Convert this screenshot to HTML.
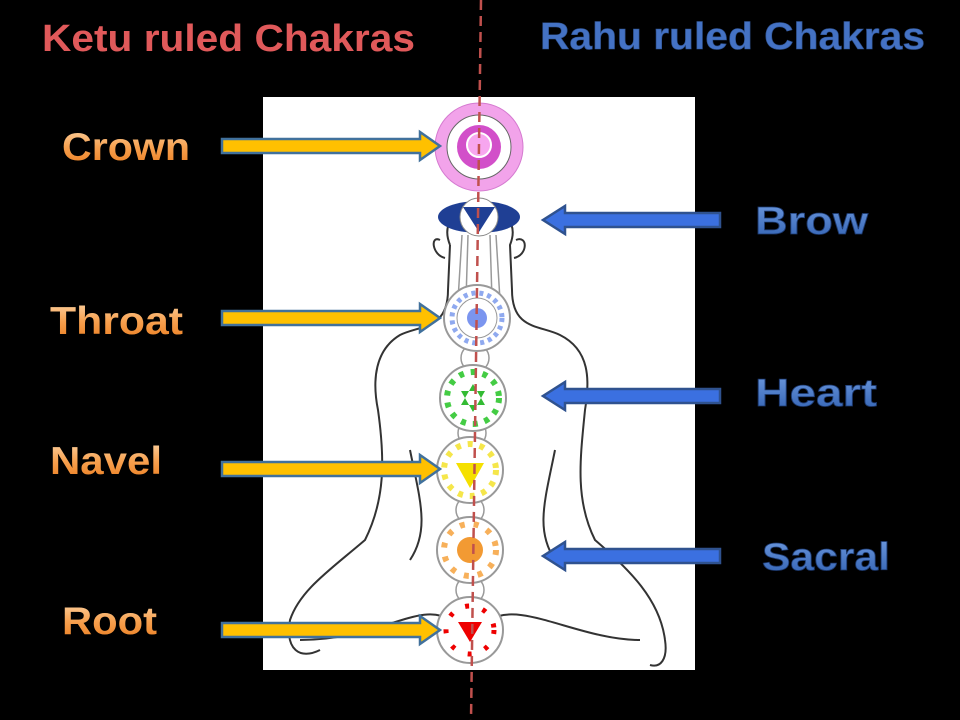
<!DOCTYPE html>
<html><head><style>
body{margin:0;background:#000;width:960px;height:720px;overflow:hidden}
svg{display:block}
text{font-family:"Liberation Sans",sans-serif;font-weight:bold}
</style></head><body>
<svg width="960" height="720" viewBox="0 0 960 720">
<defs>
<linearGradient id="og" x1="0" y1="0" x2="0" y2="1"><stop offset="0" stop-color="#fcd5a8"/><stop offset="0.5" stop-color="#f7a04e"/><stop offset="1" stop-color="#e97a1c"/></linearGradient>
<linearGradient id="bg" x1="0" y1="0" x2="0" y2="1"><stop offset="0" stop-color="#6f9be0"/><stop offset="1" stop-color="#2f5fb0"/></linearGradient>
<g id="la"><path d="M222,-7 H420 V-14 L440,0 L420,14 V7 H222 Z" fill="#ffc000" stroke="#41719c" stroke-width="2.5"/></g>
<g id="ra"><path d="M720,-7 H565 V-14 L543,0 L565,14 V7 H720 Z" fill="#3b70e0" stroke="#2f528f" stroke-width="2.5"/></g>
</defs>
<rect x="263" y="97" width="432" height="573" fill="#fff"/>
<g fill="none" stroke="#333" stroke-width="2">
<path d="M450,245 C430,195 530,195 510,245 L512,290 C512,330 540,325 560,335 C590,350 590,380 585,410 C580,460 575,500 595,540 C630,570 660,600 665,640 C668,660 660,668 650,665"/>
<path d="M450,245 L448,290 C448,330 420,325 400,335 C375,350 372,380 378,410 C385,460 385,500 365,540 C330,570 300,590 290,620 C285,650 300,660 320,650"/>
<path d="M440,240 C430,235 432,255 445,258 M516,240 C528,235 528,255 514,258"/>
<path d="M410,450 C420,500 430,530 410,560 M555,450 C545,500 535,530 555,560"/>
<path d="M300,640 C380,640 420,600 450,620 M640,640 C580,640 520,600 490,620"/>
</g>
<g fill="none" stroke="#999" stroke-width="1.5">
<path d="M462,235 L458,300 M496,235 L500,300 M468,235 L466,300 M490,235 L492,300"/>
<circle cx="475" cy="358" r="14"/><circle cx="472" cy="433" r="14"/><circle cx="470" cy="510" r="14"/><circle cx="470" cy="590" r="14"/>
</g>
<circle cx="479" cy="147" r="44" fill="#f2a3ea" stroke="#d57ad0"/>
<circle cx="479" cy="147" r="32" fill="#fff" stroke="#666"/>
<circle cx="479" cy="147" r="22" fill="#d24fc9"/>
<circle cx="479" cy="145" r="12" fill="#f7a6ef" stroke="#fff" stroke-width="2"/>
<ellipse cx="479" cy="217" rx="41" ry="16" fill="#1f3f94"/>
<circle cx="479" cy="217" r="19" fill="#fff" stroke="#888"/>
<path d="M463,207 H495 L479,232 Z" fill="#1f3f94"/>
<circle cx="477" cy="318" r="33" fill="#fff" stroke="#999" stroke-width="2"/>
<circle cx="477" cy="318" r="25" fill="none" stroke="#8fa9ef" stroke-width="5" stroke-dasharray="4 4"/>
<circle cx="477" cy="318" r="20" fill="#fff" stroke="#999"/>
<circle cx="477" cy="318" r="10" fill="#7b95ef"/>
<circle cx="473" cy="398" r="33" fill="#fff" stroke="#999" stroke-width="2"/>
<circle cx="473" cy="398" r="26" fill="none" stroke="#44cc44" stroke-width="6" stroke-dasharray="5 7"/>
<path d="M473,384 L485,405 H461 Z M473,412 L485,391 H461 Z" fill="#33bb33"/>
<circle cx="470" cy="470" r="33" fill="#fff" stroke="#999" stroke-width="2"/>
<circle cx="470" cy="470" r="26" fill="none" stroke="#f5e64a" stroke-width="6" stroke-dasharray="5 7"/>
<path d="M456,463 H484 L470,488 Z" fill="#f5e000"/>
<circle cx="470" cy="550" r="33" fill="#fff" stroke="#999" stroke-width="2"/>
<circle cx="470" cy="550" r="26" fill="none" stroke="#f7b05a" stroke-width="6" stroke-dasharray="5 9"/>
<circle cx="470" cy="550" r="13" fill="#f29a33"/>
<circle cx="470" cy="630" r="33" fill="#fff" stroke="#999" stroke-width="2"/>
<circle cx="470" cy="630" r="24" fill="none" stroke="#e00" stroke-width="5" stroke-dasharray="4 14"/>
<path d="M458,622 H482 L470,642 Z" fill="#e00"/>
<line x1="481" y1="0" x2="471" y2="720" stroke="#c0504d" stroke-width="2.5" stroke-dasharray="10 6"/>
<use href="#la" y="146"/><use href="#la" y="318"/><use href="#la" y="469"/><use href="#la" y="630"/>
<use href="#ra" y="220"/><use href="#ra" y="396"/><use href="#ra" y="556"/>
<text x="42" y="51" font-size="38" fill="#e0595a" textLength="373" lengthAdjust="spacingAndGlyphs">Ketu ruled Chakras</text>
<text x="540" y="49" font-size="38" fill="#4472c4" stroke="#2f528f" stroke-width="0.6" textLength="385" lengthAdjust="spacingAndGlyphs">Rahu ruled Chakras</text>
<g font-size="39" fill="url(#og)">
<text x="62" y="160" textLength="128" lengthAdjust="spacingAndGlyphs">Crown</text>
<text x="50" y="334" textLength="133" lengthAdjust="spacingAndGlyphs">Throat</text>
<text x="50" y="474" textLength="112" lengthAdjust="spacingAndGlyphs">Navel</text>
<text x="62" y="634" textLength="95" lengthAdjust="spacingAndGlyphs">Root</text>
</g>
<g font-size="39" fill="url(#bg)" stroke="#1d3a70" stroke-width="0.8">
<text x="755" y="234" textLength="113" lengthAdjust="spacingAndGlyphs">Brow</text>
<text x="755" y="406" textLength="122" lengthAdjust="spacingAndGlyphs">Heart</text>
<text x="762" y="570" textLength="128" lengthAdjust="spacingAndGlyphs">Sacral</text>
</g>
</svg>
</body></html>
